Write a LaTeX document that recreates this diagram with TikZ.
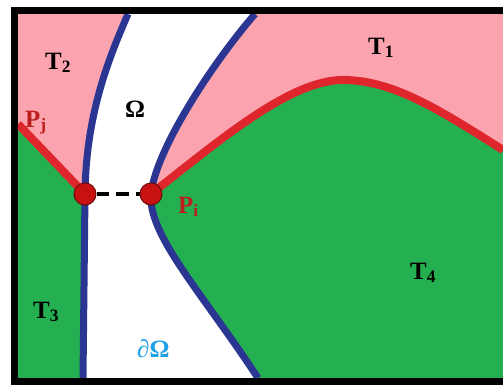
\documentclass[tikz,border=0pt]{standalone}
\usepackage{fontspec}
\setmainfont{Liberation Serif}
\usepackage{tikz}
\usetikzlibrary{positioning}
\definecolor{regpink}{RGB}{251,163,174}
\definecolor{reggreen}{RGB}{36,176,80}
\definecolor{seamred}{RGB}{222,38,44}
\definecolor{bndblue}{RGB}{42,54,146}
\definecolor{ptred}{RGB}{200,18,18}
\definecolor{lblred}{RGB}{188,30,30}
\definecolor{lblcyan}{RGB}{28,160,230}
\tikzset{
  lbl/.style={font=\fontsize{25}{30}\selectfont\bfseries, anchor=base west, inner sep=0pt},
  seam/.style={seamred, line width=8bp},
  bnd/.style={bndblue, line width=7bp},
  ptdot/.style={circle, fill=ptred, draw=ptred!55!black, line width=1bp, minimum size=22bp, inner sep=0pt}
}

\begin{document}
\begin{tikzpicture}[x=1bp, y=-1bp]
  \useasboundingbox (0,0) rectangle (503,385);
  % key points
  \coordinate (pj)  at (18,124);
  \coordinate (ltop) at (128,14);
  \coordinate (lbot) at (83,378);
  \coordinate (rtop) at (255,14);
  \coordinate (rbot) at (258,378);
  \coordinate (peak) at (343,80);
  \coordinate (rend) at (503,150);
  \node[ptdot] (dotl) at (85,194) {};
  \node[ptdot] (doti) at (151,194) {};
  % regions
  \fill[regpink] (18,14) rectangle (503,378);
  \fill[reggreen] (pj) -- (dotl.center) -- (lbot) -- (18,378) -- cycle;
  \fill[reggreen] (doti.center) .. controls (220,140) and (290,80) .. (peak)
    .. controls (393,80) and (440,110) .. (rend) -- (503,378) -- (rbot)
    .. controls (200,290) and (148,235) .. (doti.center) -- cycle;
  \fill[white] (ltop) .. controls (108,60) and (86,115) .. (dotl.center) -- (lbot) -- (rbot)
    .. controls (200,290) and (148,235) .. (doti.center)
    .. controls (156,148) and (215,60) .. (rtop) -- cycle;
  % red seams
  \draw[seam] (pj) -- (dotl.center);
  \draw[seam] (doti.center) .. controls (220,140) and (290,80) .. (peak)
    .. controls (393,80) and (440,110) .. (rend);
  % boundary of Omega
  \draw[bnd] (ltop) .. controls (108,60) and (86,115) .. (dotl.center) -- (lbot);
  \draw[bnd] (rtop) .. controls (215,60) and (156,148) .. (doti.center)
    .. controls (148,235) and (200,290) .. (rbot);
  \draw[black, line width=4bp, dash pattern=on 12.5bp off 7bp] (dotl) -- (doti);
  \node[ptdot] at (dotl) {};
  \node[ptdot] at (doti) {};
  % labels
  \node[lbl] (t1) at (368,54) {T\textsubscript{1}};
  \node[lbl] (t2) at (45,69) {T\textsubscript{2}};
  \node[lbl] (t3) at (33,318) {T\textsubscript{3}};
  \node[lbl] (t4) at (410,279) {T\textsubscript{4}};
  \node[lbl] (om) at (125,117) {Ω};
  \node[lbl, lblred] (lpj) at (25,127) {P\textsubscript{j}};
  \node[lbl, lblred] (lpi) at (178,213) {P\textsubscript{i}};
  \node[lbl, lblcyan] (dom) at (137,357) {∂Ω};
  % frame
  \fill[black] (11,7) rectangle (503,14);
  \fill[black] (11,7) rectangle (18,385);
  \fill[black] (11,378) rectangle (503,385);
\end{tikzpicture}
\end{document}
